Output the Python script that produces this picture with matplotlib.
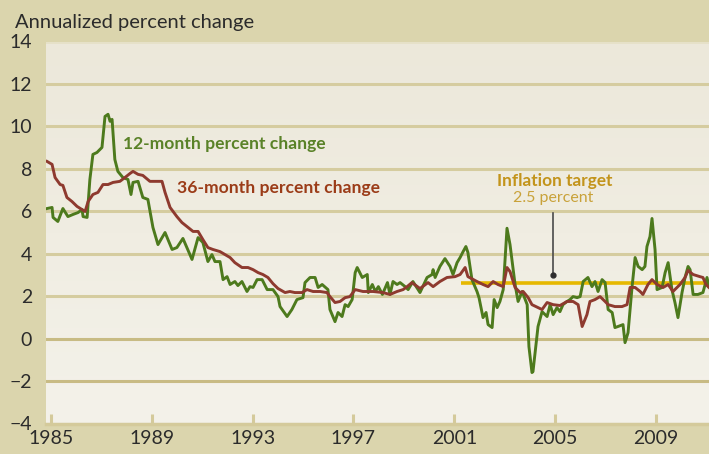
import matplotlib
matplotlib.use("Agg")
import matplotlib.pyplot as plt
import numpy as np
from matplotlib.colors import LinearSegmentedColormap

plt.rcParams['font.family'] = ['Lato', 'DejaVu Sans']

# ---- data ----
green_years = [1984.85, 1985.05, 1985.09, 1985.28, 1985.48, 1985.68, 1985.88, 1986.08, 1986.24, 1986.28,
               1986.44, 1986.55, 1986.67, 1986.83, 1987.03, 1987.15, 1987.27, 1987.35, 1987.43, 1987.54,
               1987.66, 1987.86, 1988.06, 1988.18, 1988.26, 1988.46, 1988.65, 1988.85, 1989.05, 1989.25,
               1989.53, 1989.81, 1990.00, 1990.24, 1990.60, 1990.84, 1991.03, 1991.23, 1991.39, 1991.51,
               1991.71, 1991.83, 1991.99, 1992.11, 1992.30, 1992.42, 1992.58, 1992.78, 1992.90, 1993.02,
               1993.18, 1993.38, 1993.58, 1993.81, 1994.01, 1994.09, 1994.37, 1994.56, 1994.76, 1995.00,
               1995.08, 1995.28, 1995.48, 1995.60, 1995.76, 1995.99, 1996.07, 1996.27, 1996.39, 1996.55,
               1996.67, 1996.79, 1996.95, 1997.07, 1997.15, 1997.35, 1997.55, 1997.59, 1997.75, 1997.87,
               1997.99, 1998.15, 1998.35, 1998.45, 1998.57, 1998.73, 1998.85, 1999.05, 1999.17, 1999.36,
               1999.64, 1999.92, 2000.12, 2000.16, 2000.24, 2000.43, 2000.63, 2000.83, 2000.95, 2001.11,
               2001.23, 2001.35, 2001.46, 2001.54, 2001.70, 2001.90, 2001.98, 2002.14, 2002.26, 2002.34,
               2002.50, 2002.58, 2002.70, 2002.81, 2002.94, 2003.09, 2003.21, 2003.41, 2003.53, 2003.69,
               2003.89, 2003.96, 2004.08, 2004.12, 2004.32, 2004.48, 2004.68, 2004.80, 2004.92, 2005.07,
               2005.19, 2005.31, 2005.47, 2005.59, 2005.71, 2005.87, 2005.99, 2006.11, 2006.30, 2006.46,
               2006.58, 2006.70, 2006.86, 2006.98, 2007.10, 2007.26, 2007.37, 2007.49, 2007.69, 2007.77,
               2007.89, 2008.05, 2008.17, 2008.29, 2008.45, 2008.56, 2008.64, 2008.76, 2008.84, 2008.96,
               2009.04, 2009.24, 2009.36, 2009.48, 2009.63, 2009.75, 2009.87, 2010.03, 2010.15, 2010.27,
               2010.35, 2010.47, 2010.66, 2010.86, 2011.02, 2011.10]
green_values = [6.13, 6.18, 5.71, 5.52, 6.13, 5.75, 5.85, 5.94, 6.08, 5.75,
                5.71, 7.50, 8.68, 8.77, 9.01, 10.47, 10.57, 10.24, 10.33, 8.44,
                7.88, 7.59, 7.50, 6.79, 7.36, 7.41, 6.65, 6.56, 5.24, 4.43,
                5.00, 4.20, 4.29, 4.72, 3.73, 4.76, 4.53, 3.63, 3.96, 3.63,
                3.63, 2.78, 2.92, 2.55, 2.69, 2.50, 2.69, 2.22, 2.45, 2.41,
                2.78, 2.78, 2.31, 2.31, 1.98, 1.51, 1.04, 1.37, 1.84, 1.93,
                2.64, 2.88, 2.88, 2.41, 2.55, 2.31, 1.37, 0.80, 1.23, 1.04,
                1.60, 1.51, 1.84, 3.11, 3.35, 2.88, 3.02, 2.17, 2.55, 2.22,
                2.45, 2.08, 2.64, 2.08, 2.69, 2.55, 2.64, 2.45, 2.31, 2.69,
                2.17, 2.88, 3.02, 3.25, 2.88, 3.40, 3.77, 3.40, 3.02, 3.58,
                3.82, 4.10, 4.34, 4.06, 2.78, 2.22, 1.93, 0.99, 1.23, 0.66,
                0.52, 1.84, 1.46, 1.75, 2.31, 5.20, 4.43, 2.55, 1.75, 2.22,
                1.60, -0.38, -1.60, -1.56, 0.57, 1.27, 1.04, 1.60, 1.13, 1.46,
                1.27, 1.60, 1.75, 1.84, 1.98, 1.93, 1.98, 2.69, 2.88, 2.45,
                2.69, 2.22, 2.78, 2.64, 1.37, 1.23, 0.52, 0.57, 0.66, -0.19,
                0.28, 2.45, 3.82, 3.40, 3.25, 3.40, 4.34, 4.81, 5.66, 4.20,
                2.31, 2.41, 3.11, 3.58, 2.31, 1.70, 0.99, 2.17, 2.88, 3.40,
                3.25, 2.08, 2.08, 2.17, 2.88, 2.45]

red_years = [1984.85, 1985.05, 1985.17, 1985.37, 1985.48, 1985.64, 1985.84, 1986.04, 1986.24, 1986.36,
             1986.48, 1986.67, 1986.87, 1987.07, 1987.27, 1987.47, 1987.74, 1987.94, 1988.14, 1988.26,
             1988.46, 1988.65, 1988.93, 1989.21, 1989.41, 1989.53, 1989.73, 1990.00, 1990.20, 1990.40,
             1990.64, 1990.84, 1991.03, 1991.23, 1991.43, 1991.71, 1991.91, 1992.11, 1992.30, 1992.58,
             1992.82, 1993.02, 1993.22, 1993.41, 1993.61, 1993.81, 1994.01, 1994.29, 1994.48, 1994.68,
             1994.96, 1995.16, 1995.40, 1995.68, 1995.95, 1996.07, 1996.27, 1996.47, 1996.67, 1996.86,
             1997.07, 1997.38, 1997.78, 1998.17, 1998.45, 1998.73, 1998.97, 1999.13, 1999.32, 1999.64,
             1999.96, 2000.16, 2000.43, 2000.71, 2001.03, 2001.23, 2001.43, 2001.54, 2001.90, 2002.14,
             2002.34, 2002.54, 2002.73, 2002.94, 2003.09, 2003.21, 2003.41, 2003.61, 2003.73, 2003.93,
             2004.08, 2004.48, 2004.68, 2004.92, 2005.19, 2005.47, 2005.71, 2005.91, 2006.07, 2006.26,
             2006.38, 2006.58, 2006.78, 2006.98, 2007.10, 2007.37, 2007.65, 2007.85, 2007.97, 2008.17,
             2008.37, 2008.48, 2008.68, 2008.84, 2009.04, 2009.28, 2009.48, 2009.67, 2009.95, 2010.15,
             2010.27, 2010.47, 2010.74, 2010.86, 2010.98, 2011.10]
red_values = [8.35, 8.21, 7.59, 7.26, 7.22, 6.65, 6.46, 6.23, 6.08, 5.99,
              6.46, 6.79, 6.89, 7.26, 7.26, 7.36, 7.41, 7.59, 7.78, 7.88,
              7.74, 7.69, 7.41, 7.41, 7.41, 6.89, 6.18, 5.75, 5.47, 5.28,
              5.05, 5.05, 4.67, 4.29, 4.20, 4.10, 3.96, 3.82, 3.58, 3.35,
              3.35, 3.25, 3.11, 3.02, 2.88, 2.59, 2.36, 2.17, 2.22, 2.17,
              2.17, 2.31, 2.22, 2.22, 2.17, 1.98, 1.70, 1.75, 1.93, 1.98,
              2.31, 2.22, 2.22, 2.17, 2.08, 2.22, 2.31, 2.45, 2.64, 2.36,
              2.64, 2.45, 2.69, 2.88, 2.92, 3.02, 3.35, 2.92, 2.69, 2.55,
              2.45, 2.69, 2.55, 2.45, 3.35, 3.16, 2.41, 2.17, 2.22, 1.93,
              1.60, 1.37, 1.70, 1.60, 1.56, 1.75, 1.75, 1.60, 0.57, 1.13,
              1.75, 1.84, 1.98, 1.75, 1.60, 1.51, 1.51, 1.60, 2.41, 2.41,
              2.22, 2.08, 2.55, 2.78, 2.55, 2.41, 2.55, 2.22, 2.55, 2.88,
              3.21, 3.02, 2.92, 2.88, 2.55, 2.41]

target_years = [2001.25, 2011.10]
target_values = [2.63, 2.63]

y_ticks = [-4, -2, 0, 2, 4, 6, 8, 10, 12, 14]
y_tick_labels = ['\u22124', '\u22122', '0', '2', '4', '6', '8', '10', '12', '14']
x_ticks = [1985, 1989, 1993, 1997, 2001, 2005, 2009]
x_tick_labels = ['1985', '1989', '1993', '1997', '2001', '2005', '2009']

# ---- styling ----
BG = '#dbd5ad'
GRID = '#d5cc9f'
GRID_DARK = '#c8bb84'
GREEN = '#4d7a1d'
RED = '#8e3a2f'
GREEN_TXT = '#5a8228'
RED_TXT = '#9b3c18'
GOLD_TXT = '#c3941b'
GOLD_TXT2 = '#c9a23a'
YELLOW = '#e6b800'
TXT = '#2b2b2b'

fig = plt.figure(figsize=(7.09, 4.54), dpi=100, facecolor=BG)
ax = fig.add_axes([46/709, (454-423.5)/454, (709-46)/709, (423.5-41.5)/454])
ax.set_xlim(1984.81, 2011.10)
ax.set_ylim(-4, 14)
ax.patch.set_alpha(0)

grad = np.linspace(0, 1, 256).reshape(-1, 1)
cmap = LinearSegmentedColormap.from_list('bg', ['#f4f2ea', '#ece8da'])
ax.imshow(grad, extent=[0, 1, 1, 0], transform=ax.transAxes, cmap=cmap,
          aspect='auto', zorder=0)

for yv in y_ticks:
    if yv in (0, -2):
        ax.axhline(yv, color=GRID_DARK, lw=2.2, zorder=1)
    elif yv == 14:
        ax.axhline(yv, color='#e6e1c8', lw=2.0, zorder=1)
    elif yv == -4:
        pass
    else:
        ax.axhline(yv, color=GRID, lw=2.2, zorder=1)

ax.plot(target_years, target_values, color=YELLOW, lw=2.6, zorder=2, solid_capstyle='butt')
ax.plot(green_years, green_values, color=GREEN, lw=2.1, zorder=3)
ax.plot(red_years, red_values, color=RED, lw=2.1, zorder=4)

ax.plot([2004.92, 2004.92], [5.94, 3.02], color='#4a4a4a', lw=1.2, zorder=5)
ax.plot([2004.92], [3.02], 'o', color='#2e2e2e', ms=3.5, zorder=5)

ax.text(1987.87, 8.92, '12-month percent change', color=GREEN_TXT, fontsize=12.6,
        fontweight='bold', va='baseline', ha='left', zorder=6)
ax.text(1990.0, 6.84, '36-month percent change', color=RED_TXT, fontsize=12.6,
        fontweight='bold', va='baseline', ha='left', zorder=6)
ax.text(2004.99, 7.17, 'Inflation target', color=GOLD_TXT, fontsize=12.4,
        fontweight='bold', va='baseline', ha='center', zorder=6)
ax.text(2004.92, 6.45, '2.5 percent', color=GOLD_TXT2, fontsize=11.5,
        va='baseline', ha='center', zorder=6)

for s in ['top', 'left', 'right']:
    ax.spines[s].set_visible(False)
ax.spines['bottom'].set_color('#d4ca9b')
ax.spines['bottom'].set_linewidth(2.5)
ax.spines['bottom'].set_zorder(7)

ax.set_xticks(x_ticks)
ax.set_xticklabels(x_tick_labels)
ax.set_yticks(y_ticks)
ax.set_yticklabels(y_tick_labels)
ax.tick_params(axis='x', direction='in', length=7, width=2.2, color='#d4ca9b',
               labelsize=14, labelcolor=TXT, pad=5)
ax.tick_params(axis='y', length=0, labelsize=14, labelcolor=TXT, pad=10)

fig.text(15/709, 1 - 28/454, 'Annualized percent change', fontsize=14.5,
         color=TXT, va='baseline', ha='left')

fig.savefig('out.png', dpi=100, facecolor=BG)
